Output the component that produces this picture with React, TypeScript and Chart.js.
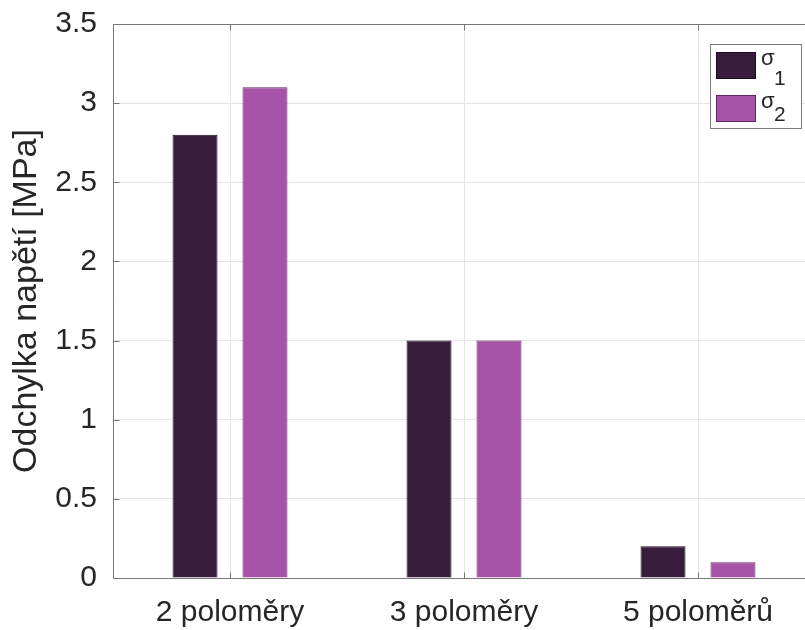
import React, { useEffect, useRef } from "react";
import { Chart, registerables } from "chart.js";

Chart.register(...registerables);

// ---- data ----
const CATEGORIES = ["2 poloměry", "3 poloměry", "5 poloměrů"];
const SIGMA1 = [2.8, 1.5, 0.2];
const SIGMA2 = [3.1, 1.5, 0.1];
const SERIES_SYMBOL = "σ";
const SERIES_SUBSCRIPTS = ["1", "2"];
const Y_MIN = 0;
const Y_MAX = 3.5;
const Y_STEP = 0.5;
const Y_TITLE = "Odchylka napětí [MPa]";

const FONT = '"Liberation Sans", Arial, Helvetica, sans-serif';
const TEXT = "#262626";
const AXIS = "#777777";
const GRID = "#e4e4e4";
const C1 = "#371d3b";
const C2 = "#a753a7";

const framePlugin = {
  id: "frame",
  afterDatasetsDraw(chart: any) {
    const { ctx, chartArea, scales } = chart;
    const { left, right, top, bottom } = chartArea;
    ctx.save();
    ctx.strokeStyle = AXIS;
    ctx.lineWidth = 1;
    const L = Math.round(left) + 0.5;
    const R = Math.round(right) - 0.5;
    const T = Math.round(top) + 0.5;
    const B = Math.round(bottom) + 0.5;
    ctx.beginPath();
    ctx.moveTo(L, T);
    ctx.lineTo(R, T);
    ctx.lineTo(R, B);
    ctx.lineTo(L, B);
    ctx.closePath();
    ctx.stroke();
    // inner ticks
    ctx.beginPath();
    const yTicks = scales.y.ticks;
    for (const t of yTicks) {
      const y = Math.round(scales.y.getPixelForValue(t.value)) + 0.5;
      ctx.moveTo(L, y);
      ctx.lineTo(L + 6, y);
      ctx.moveTo(R, y);
      ctx.lineTo(R - 6, y);
    }
    for (let i = 0; i < CATEGORIES.length; i++) {
      const x = Math.round(scales.x.getPixelForValue(i)) + 0.5;
      ctx.moveTo(x, B);
      ctx.lineTo(x, B - 6);
      ctx.moveTo(x, T);
      ctx.lineTo(x, T + 6);
    }
    ctx.stroke();
    ctx.restore();
  },
};

const legendPlugin = {
  id: "customLegend",
  afterDraw(chart: any) {
    const { ctx } = chart;
    const ds = chart.data.datasets;
    ctx.save();
    // box
    ctx.fillStyle = "#ffffff";
    ctx.fillRect(710, 44, 91, 84);
    ctx.strokeStyle = "#7a7a7a";
    ctx.lineWidth = 1;
    ctx.strokeRect(710.5, 44.5, 91, 84);
    const rows = [
      { sy: 52, base: 65, sub: 85 },
      { sy: 95, base: 108, sub: 121 },
    ];
    ds.forEach((d: any, i: number) => {
      const r = rows[i];
      ctx.fillStyle = d.backgroundColor;
      ctx.fillRect(716, r.sy, 40, 26);
      ctx.strokeStyle = d.borderColor;
      ctx.strokeRect(716.5, r.sy + 0.5, 39, 26);
      ctx.fillStyle = TEXT;
      ctx.textBaseline = "alphabetic";
      ctx.textAlign = "left";
      ctx.font = `22px ${FONT}`;
      ctx.fillText(SERIES_SYMBOL, 761, r.base);
      ctx.font = `21px ${FONT}`;
      ctx.fillText(SERIES_SUBSCRIPTS[i], 774, r.sub);
    });
    ctx.restore();
  },
};

export default function App() {
  const ref = useRef<HTMLCanvasElement | null>(null);

  useEffect(() => {
    if (!ref.current) return;
    const chart = new Chart(ref.current, {
      type: "bar",
      data: {
        labels: CATEGORIES,
        datasets: [
          {
            label: SERIES_SYMBOL + SERIES_SUBSCRIPTS[0],
            data: SIGMA1,
            backgroundColor: C1,
            borderColor: "#1a0c1c",
            borderWidth: 1,
            categoryPercentage: 0.598,
            barPercentage: 0.643,
          },
          {
            label: SERIES_SYMBOL + SERIES_SUBSCRIPTS[1],
            data: SIGMA2,
            backgroundColor: C2,
            borderColor: "#5e275e",
            borderWidth: 1,
            categoryPercentage: 0.598,
            barPercentage: 0.643,
          },
        ],
      },
      options: {
        responsive: false,
        animation: false,
        devicePixelRatio: 1,
        layout: { padding: { top: 24, right: 15, left: 0, bottom: 0 } },
        plugins: {
          legend: { display: false },
          tooltip: { enabled: false },
          title: { display: false },
        },
        scales: {
          x: {
            type: "category",
            offset: true,
            grid: { offset: false, color: GRID, drawTicks: false, lineWidth: 1 },
            border: { display: false },
            ticks: {
              color: TEXT,
              font: { family: FONT, size: 30 },
              padding: 17,
              maxRotation: 0,
              autoSkip: false,
            },
            afterFit(scale: any) {
              scale.height = 52;
              scale.paddingLeft = 0;
              scale.paddingRight = 0;
            },
          },
          y: {
            type: "linear",
            min: Y_MIN,
            max: Y_MAX,
            grid: { color: GRID, drawTicks: false, lineWidth: 1 },
            border: { display: false },
            ticks: {
              stepSize: Y_STEP,
              color: TEXT,
              font: { family: FONT, size: 30 },
              padding: 16,
              callback: (v: any) => String(v),
            },
            title: {
              display: true,
              text: Y_TITLE,
              color: TEXT,
              font: { family: FONT, size: 34 },
              padding: { top: 6, bottom: 0 },
            },
            afterFit(scale: any) {
              scale.width = 113;
              scale.paddingTop = 0;
              scale.paddingBottom = 0;
            },
          },
        },
      },
      plugins: [framePlugin, legendPlugin],
    });
    return () => chart.destroy();
  }, []);

  return (
    <div
      style={{
        position: "absolute",
        left: 0,
        top: 0,
        width: 805,
        height: 630,
        overflow: "hidden",
        background: "#ffffff",
      }}
    >
      <canvas ref={ref} width={830} height={630} style={{ display: "block" }} />
    </div>
  );
}
